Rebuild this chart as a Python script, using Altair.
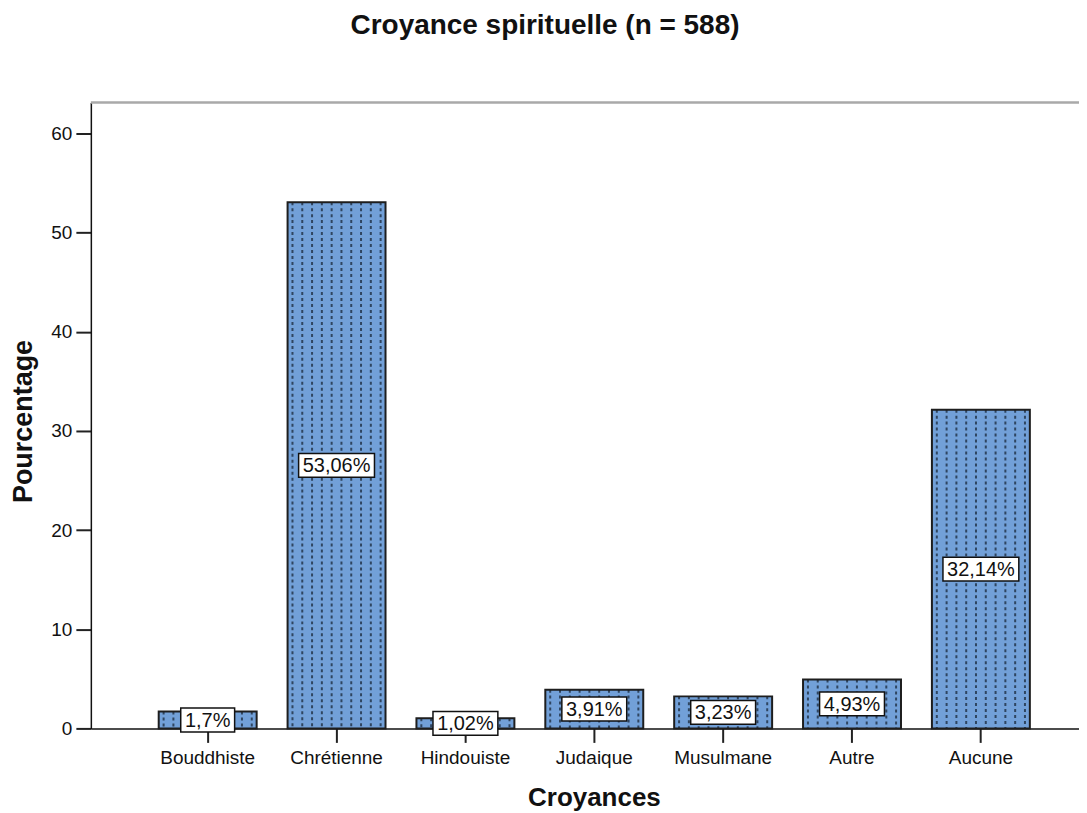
import altair as alt
import pandas as pd

# ---- data ----
categories = ["Bouddhiste", "Chrétienne", "Hindouiste", "Judaique", "Musulmane", "Autre", "Aucune"]
percentages = [1.70, 53.06, 1.02, 3.91, 3.23, 4.93, 32.14]
value_labels = ["1,7%", "53,06%", "1,02%", "3,91%", "3,23%", "4,93%", "32,14%"]
y_ticks = [0, 10, 20, 30, 40, 50, 60]
y_max = 63.1
pattern_columns = list(range(10))

df = pd.DataFrame({"cat": categories, "pct": percentages, "lab": value_labels})
pat = pd.DataFrame(
    [(c, p, j) for c, p in zip(categories, percentages) for j in pattern_columns],
    columns=["cat", "pct", "j"],
)
top = pd.DataFrame({"v": [y_max]})

FONT = "Liberation Sans"
INK = "#111111"

xscale = alt.Scale(domain=categories, paddingInner=0.24, paddingOuter=0.454, align=0.58, round=False)
yscale = alt.Scale(domain=[0, y_max], nice=False, zero=True)

xaxis = alt.Axis(
    title="Croyances", labelAngle=0, labelFont=FONT, labelFontSize=19, labelColor=INK,
    labelPadding=6, tickSize=14, tickColor="#222222", tickWidth=2,
    domainColor=INK, domainWidth=1.5, grid=False,
    titleFont=FONT, titleFontSize=26, titleFontWeight="bold", titleColor=INK,
    titleX=504, titleY=77, titleBaseline="alphabetic", titleAlign="center",
)
yaxis = alt.Axis(
    title="Pourcentage", values=y_ticks, grid=False, labelFont=FONT, labelFontSize=19,
    labelColor=INK, labelPadding=4, tickSize=15, tickColor="#222222", tickWidth=2,
    domainColor=INK, domainWidth=1.5,
    titleFont=FONT, titleFontSize=27, titleFontWeight="bold", titleColor=INK,
    titleAngle=270, titleX=-59, titleY=319, titleBaseline="alphabetic", titleAlign="center",
)

X = alt.X("cat:N", scale=xscale, axis=xaxis, sort=categories, title="Croyances")


def Y(field):
    return alt.Y(f"{field}:Q", scale=yscale, axis=yaxis, title="Pourcentage")


bars = alt.Chart(df).mark_bar(color="#72a0d8").encode(x=X, y=Y("pct"))

dots = alt.Chart(pat).mark_rule(
    color="#2f4560", strokeWidth=2, strokeDash=[3, 3]
).encode(
    x=X,
    xOffset=alt.XOffset("j:O", scale=alt.Scale(paddingInner=0, paddingOuter=0)),
    y=Y("pct"),
    y2=alt.datum(0),
)

outline = alt.Chart(df).mark_bar(fill="transparent", stroke="#1e1e1e", strokeWidth=2).encode(
    x=X, y=Y("pct")
)

boxes = alt.Chart(df).transform_calculate(
    lo="datum.pct / 2 - 1.2",
    hi="datum.pct / 2 + 1.2",
    boxw="length(datum.lab) * 11 + 10",
).mark_bar(fill="white", stroke="#111111", strokeWidth=1.5).encode(
    x=X, y=Y("lo"), y2="hi:Q", size=alt.Size("boxw:Q", scale=None)
)

labels = alt.Chart(df).transform_calculate(mid="datum.pct / 2").mark_text(
    font=FONT, fontSize=20, color=INK, baseline="middle", align="center", dy=1
).encode(x=X, y=Y("mid"), text="lab:N")

topline = alt.Chart(top).mark_rule(color="#a9a9a9", strokeWidth=2.5).encode(y=Y("v"))

chart = alt.layer(bars, dots, outline, topline, boxes, labels).properties(
    width=990,
    height=627,
    autosize=alt.AutoSizeParams(type="none"),
    padding={"left": 83, "top": 94, "right": 0, "bottom": 90},
    background="white",
    title=alt.Title(
        "Croyance spirituelle (n = 588)", font=FONT, fontSize=28, fontWeight="bold",
        color=INK, anchor="middle", frame="group", offset=39, baseline="alphabetic", dx=-40,
    ),
).configure_view(stroke="transparent")

chart.save("out.html", embed_options={"renderer": "svg", "actions": False})
